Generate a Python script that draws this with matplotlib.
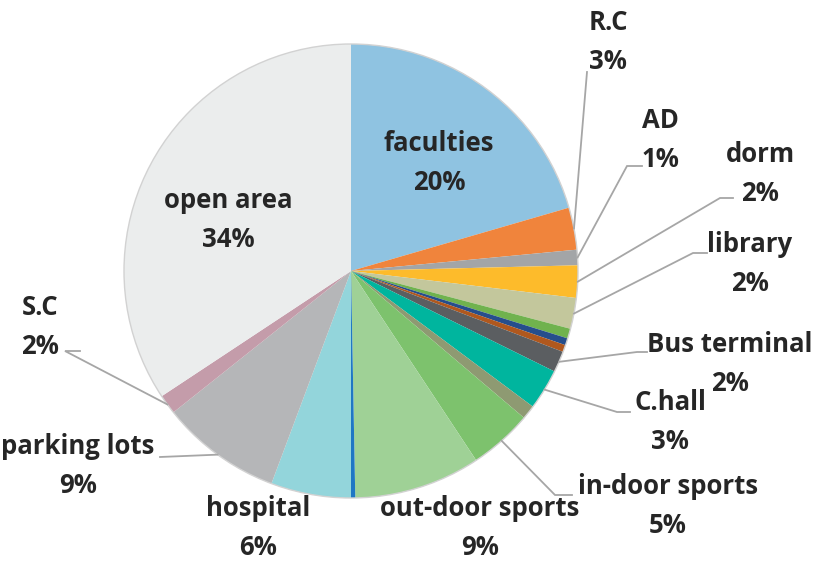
import numpy as np
import matplotlib.pyplot as plt

# slices clockwise from 12 o'clock (percent)
names = ["faculties", "R.C", "AD", "dorm", "library", "", "", "",
         "Bus terminal", "C.hall", "", "in-door sports", "out-door sports", "",
         "hospital", "parking lots", "S.C", "open area"]
shares = [20.5, 3.0, 1.1, 2.3, 2.2, 0.7, 0.5, 0.5,
          1.5, 2.9, 1.0, 4.5, 9.0, 0.3,
          5.7, 8.6, 1.4, 34.3]
pct_text = ["20%", "3%", "1%", "2%", "2%", "", "", "",
            "2%", "3%", "", "5%", "9%", "",
            "6%", "9%", "2%", "34%"]
colors = ["#8FC3E1", "#F0843C", "#A3A5A7", "#FDBB2B", "#C3C79C", "#70B24E",
          "#264E8C", "#B0581E", "#5B5E61", "#00B59E", "#8E9A72", "#7DC26D",
          "#9FD196", "#1F77C4", "#93D5DB", "#B5B6B8", "#C49CAA", "#EBEDED"]

W, H = 827, 562
CX, CY, R = 351, 271, 227   # pie centre / radius in pixels (y from top)

# label block centres (pixels, y from top) and leader-line elbows
label_pos = {
    "faculties": (439, 163), "R.C": (608, 42), "AD": (660, 140),
    "dorm": (760, 174), "library": (750, 264), "Bus terminal": (730, 364),
    "C.hall": (670, 422), "in-door sports": (668, 506),
    "out-door sports": (480, 528), "hospital": (258, 528),
    "parking lots": (78, 466), "S.C": (40, 327), "open area": (228, 220),
}
elbows = {
    "R.C": [(587, 72)],
    "AD": [(642, 166), (627, 166)],
    "dorm": [(733, 198), (720, 198)],
    "library": [(707, 253), (693, 253)],
    "Bus terminal": [(647, 352), (637, 352)],
    "C.hall": [(630, 412), (617, 412)],
    "in-door sports": [(572, 495), (555, 495)],
    "parking lots": [(160, 457)],
    "S.C": [(80, 351), (65, 351)],
}

plt.rcParams['font.family'] = ['Open Sans', 'DejaVu Sans']

fig = plt.figure(figsize=(W / 100, H / 100), dpi=100)
ax = fig.add_axes([0, 0, 1, 1])

wedges, _ = ax.pie(shares, colors=colors, startangle=90, counterclock=False,
                   center=(CX, H - CY), radius=R,
                   wedgeprops=dict(linewidth=0))
ax.add_patch(plt.Circle((CX, H - CY), R, fill=False, ec="#D2D2D2", lw=1.0))

for w, name, pct in zip(wedges, names, pct_text):
    if not name:
        continue
    lx, ly = label_pos[name]
    ax.text(lx, H - ly, f"{name}\n{pct}", ha="center", va="center",
            fontsize=18.5, fontweight="bold", color="#262626", linespacing=1.58)
    if name in elbows:
        mid = np.deg2rad((w.theta1 + w.theta2) / 2)
        ax_pt = (CX + R * np.cos(mid), H - CY + R * np.sin(mid))
        pts = [(x, H - y) for x, y in elbows[name]] + [ax_pt]
        xs, ys = zip(*pts)
        ax.plot(xs, ys, color="#A6A6A6", lw=1.3, solid_joinstyle="miter")

ax.set_xlim(0, W)
ax.set_ylim(0, H)
ax.set_aspect("equal")
ax.axis("off")

fig.savefig("out.png", dpi=100)
